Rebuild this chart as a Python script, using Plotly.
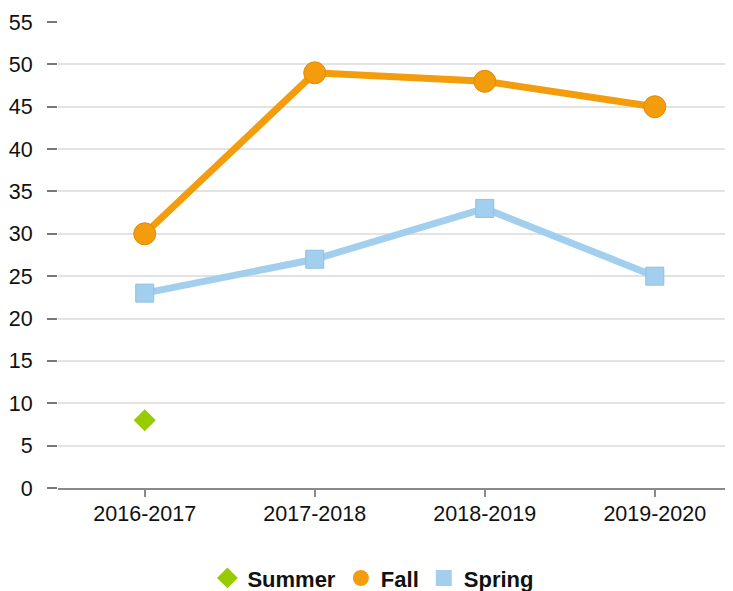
import plotly.graph_objects as go

categories = ["2016-2017", "2017-2018", "2018-2019", "2019-2020"]
fall = [30, 49, 48, 45]
spring = [23, 27, 33, 25]
summer = [8, None, None, None]
y_ticks = [0, 5, 10, 15, 20, 25, 30, 35, 40, 45, 50, 55]

ORANGE = "#F39C0C"
BLUE = "#A2CFEE"
GREEN = "#99CC00"
FONT = "Liberation Sans, Arial, sans-serif"

fig = go.Figure()

# data traces (no legend)
fig.add_trace(go.Scatter(
    x=categories, y=spring, mode="lines+markers", showlegend=False,
    line=dict(color=BLUE, width=7),
    marker=dict(symbol="square", size=18, color=BLUE, line=dict(color="#8fc0e3", width=1)),
))
fig.add_trace(go.Scatter(
    x=categories, y=fall, mode="lines+markers", showlegend=False,
    line=dict(color=ORANGE, width=7),
    marker=dict(symbol="circle", size=22, color=ORANGE, line=dict(color="#e08a00", width=1)),
))
fig.add_trace(go.Scatter(
    x=categories, y=summer, mode="markers", showlegend=False,
    marker=dict(symbol="diamond", size=17, color=GREEN, line=dict(width=0)),
))

# legend entries (marker only)
for name, sym, col in [("Summer", "diamond", GREEN), ("Fall", "circle", ORANGE), ("Spring", "square", BLUE)]:
    fig.add_trace(go.Scatter(
        x=[None], y=[None], mode="markers", name=name,
        marker=dict(symbol=sym, size=16, color=col, line=dict(width=0)),
    ))

# the page places the figure 8px from the top-left corner of the window
fig.update_layout(
    width=725, height=583,
    margin=dict(l=50, r=0, t=14, b=103, autoexpand=False),
    paper_bgcolor="white", plot_bgcolor="white",
    font=dict(family=FONT, size=21.5, color="#111"),
    legend=dict(
        orientation="h", xref="container", yref="container",
        x=0.504, xanchor="center", y=0.022, yanchor="middle",
        font=dict(family=FONT, size=22, color="#111", weight="bold"),
        itemclick=False, tracegroupgap=0,
    ),
    xaxis=dict(
        type="category", range=[-0.51, 3.46],
        showline=True, linecolor="#8a8a8a", linewidth=2,
        ticks="outside", ticklen=7, tickcolor="#8a8a8a", tickwidth=1.5,
        showgrid=False, zeroline=False,
        tickfont=dict(family=FONT, size=21.5, color="#111"),
        ticklabelstandoff=-2,
    ),
    yaxis=dict(
        range=[0, 55], tickvals=y_ticks,
        showgrid=True, gridcolor="#e3e3e3", gridwidth=1.5,
        zeroline=False, showline=False,
        ticks="outside", ticklen=10, tickcolor="#777", tickwidth=2,
        tickfont=dict(family=FONT, size=21.5, color="#111"),
        ticklabelstandoff=10,
    ),
)

fig.write_html("out.html")
